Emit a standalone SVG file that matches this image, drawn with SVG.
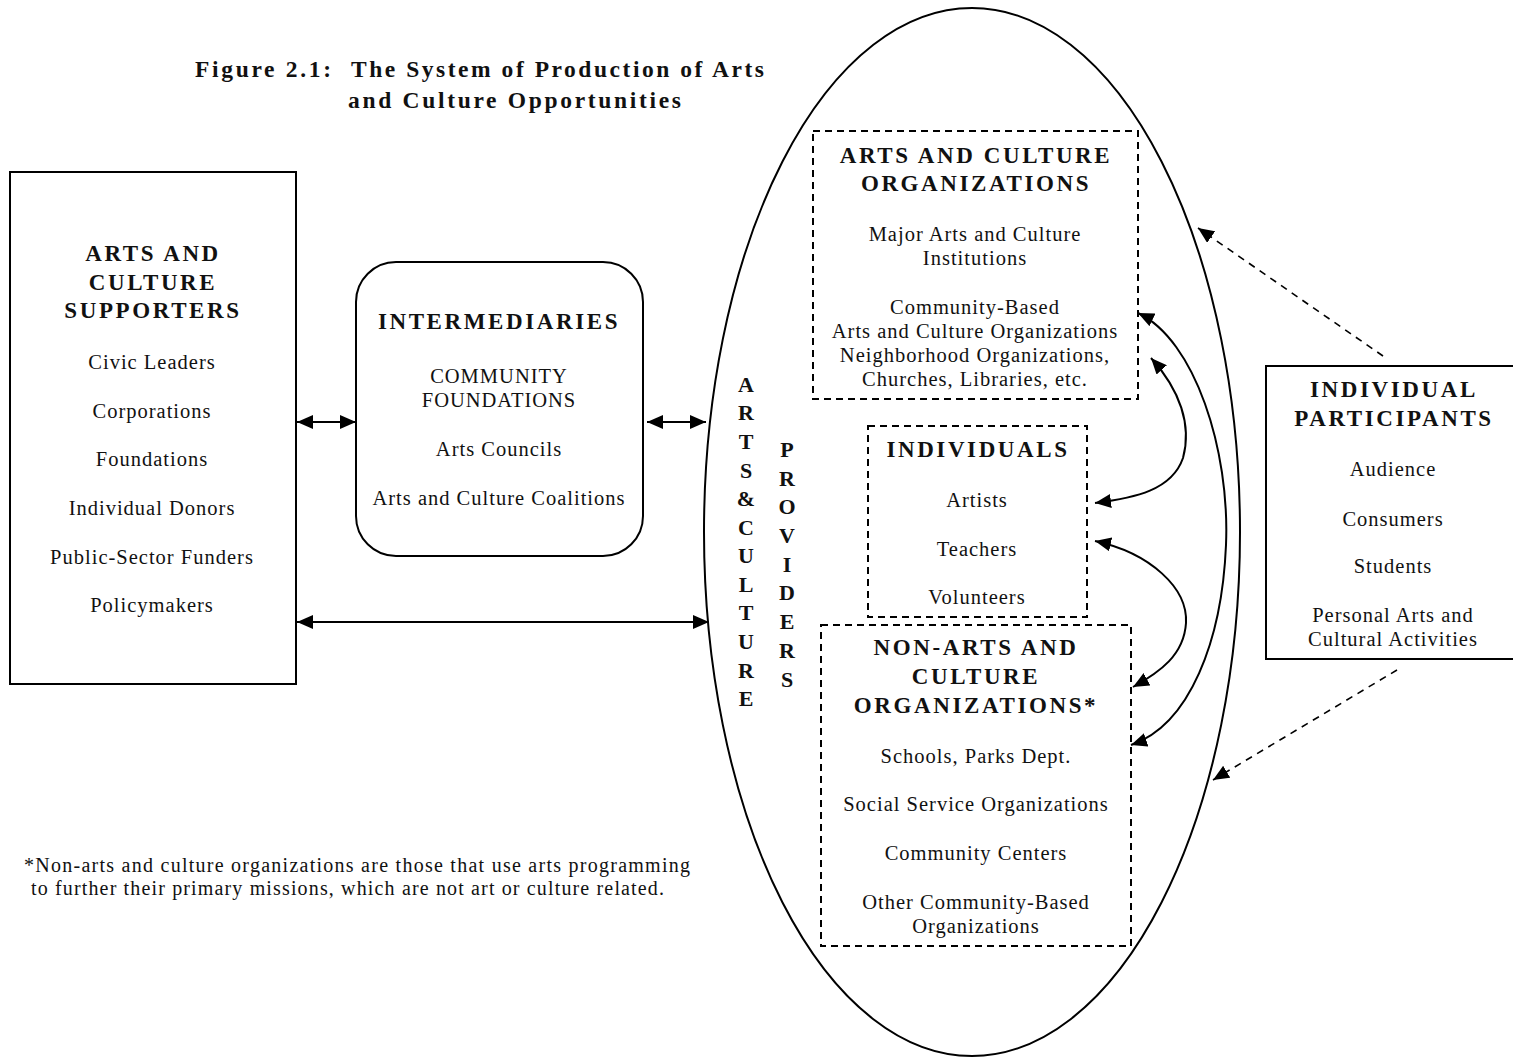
<svg xmlns="http://www.w3.org/2000/svg" width="1513" height="1057" viewBox="0 0 1513 1057">
<style>
text{font-family:"Liberation Serif","Times New Roman",serif;fill:#111;}
.t{font-size:23.5px;font-weight:bold;}
.h{font-size:23px;font-weight:bold;letter-spacing:2.6px;text-anchor:middle;}
.b{font-size:20.5px;letter-spacing:1px;text-anchor:middle;}
.v{font-size:22px;font-weight:bold;text-anchor:middle;}
.f{font-size:20px;}
.box{fill:#fff;stroke:#000;stroke-width:2;}
.dash{fill:#fff;stroke:#000;stroke-width:2;stroke-dasharray:7 5;}
.con{fill:none;stroke:#000;stroke-width:2;}
.dcon{fill:none;stroke:#000;stroke-width:1.6;stroke-dasharray:7 6;}
</style>
<defs>
<marker id="ah" markerUnits="userSpaceOnUse" markerWidth="18" markerHeight="14" refX="16" refY="7" orient="auto-start-reverse">
<path d="M0,0 L16,7 L0,14 Z" fill="#000"/>
</marker>
</defs>
<rect width="1513" height="1057" fill="#fff"/>

<g id="title">
<text class="t" x="195" y="77" textLength="136">Figure 2.1:</text>
<text class="t" x="351" y="77" textLength="413">The System of Production of Arts</text>
<text class="t" x="348" y="108" textLength="333">and Culture Opportunities</text>
</g>

<g id="providers">
<ellipse cx="972" cy="532" rx="268" ry="524" fill="none" stroke="#000" stroke-width="2"/>
<g class="v">
<text x="746" y="392">A</text><text x="746" y="420">R</text><text x="746" y="449">T</text><text x="746" y="478">S</text><text x="746" y="506">&amp;</text><text x="746" y="535">C</text><text x="746" y="563">U</text><text x="746" y="592">L</text><text x="746" y="620">T</text><text x="746" y="649">U</text><text x="746" y="678">R</text><text x="746" y="706">E</text>
<text x="787" y="457">P</text><text x="787" y="486">R</text><text x="787" y="514">O</text><text x="787" y="543">V</text><text x="787" y="572">I</text><text x="787" y="600">D</text><text x="787" y="629">E</text><text x="787" y="658">R</text><text x="787" y="687">S</text>
</g>
</g>

<g id="supporters">
<rect class="box" x="10" y="172" width="286" height="512"/>
<text class="h" x="153" y="261">ARTS AND</text>
<text class="h" x="153" y="290">CULTURE</text>
<text class="h" x="153" y="318">SUPPORTERS</text>
<text class="b" x="152" y="369">Civic Leaders</text>
<text class="b" x="152" y="418">Corporations</text>
<text class="b" x="152" y="466">Foundations</text>
<text class="b" x="152" y="515">Individual Donors</text>
<text class="b" x="152" y="564">Public-Sector Funders</text>
<text class="b" x="152" y="612">Policymakers</text>
</g>

<g id="intermediaries">
<rect class="box" x="356" y="262" width="287" height="294" rx="40" ry="40"/>
<text class="h" x="499" y="329">INTERMEDIARIES</text>
<text class="b" x="499" y="383">COMMUNITY</text>
<text class="b" x="499" y="407">FOUNDATIONS</text>
<text class="b" x="499" y="456">Arts Councils</text>
<text class="b" x="499" y="505">Arts and Culture Coalitions</text>
</g>

<g id="arts-orgs">
<rect class="dash" x="813" y="131" width="325" height="268"/>
<text class="h" x="976" y="163">ARTS AND CULTURE</text>
<text class="h" x="976" y="191">ORGANIZATIONS</text>
<text class="b" x="975" y="241">Major Arts and Culture</text>
<text class="b" x="975" y="265">Institutions</text>
<text class="b" x="975" y="314">Community-Based</text>
<text class="b" x="975" y="338">Arts and Culture Organizations</text>
<text class="b" x="975" y="362">Neighborhood Organizations,</text>
<text class="b" x="975" y="386">Churches, Libraries, etc.</text>
</g>

<g id="individuals">
<rect class="dash" x="868" y="426" width="219" height="191"/>
<text class="h" x="978" y="457">INDIVIDUALS</text>
<text class="b" x="977" y="507">Artists</text>
<text class="b" x="977" y="556">Teachers</text>
<text class="b" x="977" y="604">Volunteers</text>
</g>

<g id="non-arts-orgs">
<rect class="dash" x="821" y="625" width="310" height="321"/>
<text class="h" x="976" y="655">NON-ARTS AND</text>
<text class="h" x="976" y="684">CULTURE</text>
<text class="h" x="976" y="713">ORGANIZATIONS*</text>
<text class="b" x="976" y="763">Schools, Parks Dept.</text>
<text class="b" x="976" y="811">Social Service Organizations</text>
<text class="b" x="976" y="860">Community Centers</text>
<text class="b" x="976" y="909">Other Community-Based</text>
<text class="b" x="976" y="933">Organizations</text>
</g>

<g id="participants">
<rect class="box" x="1266" y="366" width="260" height="293"/>
<text class="h" x="1394" y="397">INDIVIDUAL</text>
<text class="h" x="1394" y="426">PARTICIPANTS</text>
<text class="b" x="1393" y="476">Audience</text>
<text class="b" x="1393" y="526">Consumers</text>
<text class="b" x="1393" y="573">Students</text>
<text class="b" x="1393" y="622">Personal Arts and</text>
<text class="b" x="1393" y="646">Cultural Activities</text>
</g>

<g id="footnote">
<text class="f" x="24" y="872" textLength="666">*Non-arts and culture organizations are those that use arts programming</text>
<text class="f" x="31" y="895" textLength="633">to further their primary missions, which are not art or culture related.</text>
</g>

<g id="connectors">
<line class="con" x1="297" y1="422" x2="356" y2="422" marker-start="url(#ah)" marker-end="url(#ah)"/>
<line class="con" x1="647" y1="422" x2="706" y2="422" marker-start="url(#ah)" marker-end="url(#ah)"/>
<line class="con" x1="297" y1="622" x2="709" y2="622" marker-start="url(#ah)" marker-end="url(#ah)"/>
<path class="con" d="M1138,313 C1195,340 1230,450 1226,545 C1222,640 1190,725 1131,745" marker-start="url(#ah)" marker-end="url(#ah)"/>
<path class="con" d="M1151,358 C1180,390 1192,425 1183,458 C1172,490 1135,498 1095,503" marker-start="url(#ah)" marker-end="url(#ah)"/>
<path class="con" d="M1095,541 C1150,553 1188,588 1186,623 C1184,655 1160,672 1133,687" marker-start="url(#ah)" marker-end="url(#ah)"/>
<path class="dcon" d="M1383,356 L1198,228" marker-end="url(#ah)"/>
<path class="dcon" d="M1397,670 L1213,780" marker-end="url(#ah)"/>
</g>
</svg>
